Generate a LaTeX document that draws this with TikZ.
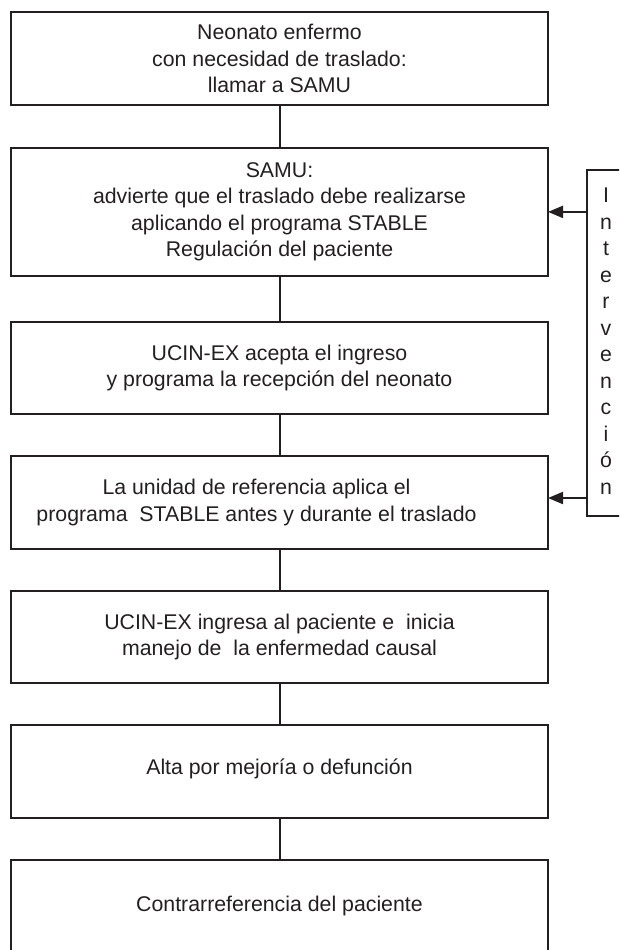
\documentclass[tikz,border=0pt]{standalone}
\usepackage{xcolor}
\usepackage{fontspec}
\setmainfont{Liberation Sans}
\usepackage{tikz}
\usetikzlibrary{arrows.meta, positioning}

\definecolor{ink}{HTML}{231F20}

\begin{document}
\begin{tikzpicture}[
  x=1pt, y=-1pt,
  node distance=42pt,
  box/.style={
    draw=ink,
    line width=2pt,
    minimum width=537pt,
    minimum height=92.5pt,
    inner sep=0pt,
    outer sep=0pt,
    align=center,
    text=ink,
    font=\fontsize{21.3}{26.5}\selectfont
  },
  link/.style={
    draw=ink,
    line width=2pt
  },
  arr/.style={
    -{Triangle[length=15pt, width=12pt]},
    line width=2pt,
    ink
  }
]

\clip (0,0) rectangle (619,950);

\node [box] (1) at (279.5,58.5) {Neonato enfermo\\con necesidad de traslado:\\llamar a SAMU};
\node [box, minimum height=128.3pt, below=43pt of 1] (2) {SAMU:\\advierte que el traslado debe realizarse\\aplicando el programa STABLE\\Regulación del paciente};
\node [box, below=45.7pt of 2] (3) {UCIN-EX acepta el ingreso\\y programa la recepción del neonato};
\node [box, below=of 3] (4) {La unidad de referencia aplica el\hspace*{46pt}\\programa \ STABLE antes y durante el traslado\hspace*{46pt}};
\node [box, below=of 4] (5) {UCIN-EX ingresa al paciente e \ inicia\\manejo de \ la enfermedad causal};
\node [box, below=of 5] (6) {Alta por mejoría o defunción\\[-17pt]\mbox{}};
\node [box, below=of 6] (7) {Contrarreferencia del paciente};

\node [box, minimum width=48pt, minimum height=346pt] (int) at (611,343) {\begin{tabular}{@{}c@{\hspace{10pt}}}I\\n\\t\\e\\r\\v\\e\\n\\c\\i\\ó\\n\end{tabular}};

\draw [link] (1) -- (2);
\draw [link] (2) -- (3);
\draw [link] (3) -- (4);
\draw [link] (4) -- (5);
\draw [link] (5) -- (6);
\draw [link] (6) -- (7);

\draw [arr] (int.west |- 2.east) -- (2.east);

\draw [arr] ([yshift=4.5pt]4.east -| int.west) -- ([yshift=4.5pt]4.east);

\end{tikzpicture}
\end{document}
